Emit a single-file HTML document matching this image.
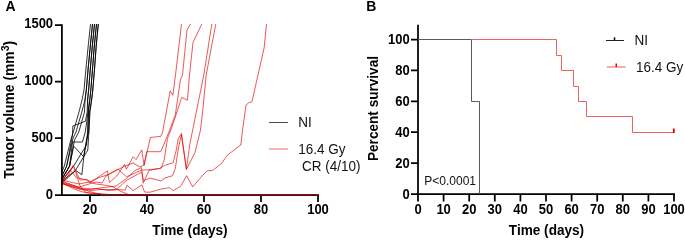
<!DOCTYPE html>
<html><head><meta charset="utf-8"><style>
html,body{margin:0;padding:0;background:#fff;}
svg{display:block;will-change:transform;font-family:"Liberation Sans",sans-serif;}
</style></head><body>
<svg width="685" height="240" viewBox="0 0 685 240" font-family="Liberation Sans, sans-serif">
<rect width="685" height="240" fill="#fff"/>
<polyline points="62.0,172.0 64.3,166.0 71.3,138.0 73.3,132.0 79.0,112.0 82.0,100.0 84.0,90.0 86.0,68.0 88.2,46.0 90.5,24.0" fill="none" stroke="#000" stroke-width="0.8"/><polyline points="62.0,176.0 66.7,166.0 73.1,138.0 76.0,132.0 81.8,112.0 85.0,100.0 86.3,90.0 88.2,68.0 90.3,46.0 92.5,24.0" fill="none" stroke="#000" stroke-width="0.8"/><polyline points="62.0,179.0 69.6,166.0 72.5,150.0 74.5,140.0 78.8,132.0 84.5,112.0 85.0,100.0 86.3,90.0 88.2,68.0 90.3,46.0 92.5,24.0" fill="none" stroke="#000" stroke-width="0.8"/><polyline points="62.0,181.0 73.7,166.0 86.5,145.0 87.5,132.0 88.3,112.0 87.6,100.0 88.6,90.0 90.4,68.0 92.3,46.0 94.5,24.0" fill="none" stroke="#000" stroke-width="0.8"/><polyline points="62.0,176.0 66.7,166.0 72.5,135.0 72.8,126.0 85.3,121.3 87.2,112.0 87.6,100.0 88.6,90.0 90.4,68.0 92.3,46.0 94.5,24.0" fill="none" stroke="#000" stroke-width="0.8"/><polyline points="62.0,179.0 69.6,166.0 72.5,142.0 82.4,142.0 85.3,132.0 88.0,112.0 89.8,100.0 90.8,90.0 92.6,68.0 94.3,46.0 96.5,24.0" fill="none" stroke="#000" stroke-width="0.8"/><polyline points="62.0,181.0 75.5,170.4 81.9,174.7 83.7,157.6 88.0,133.0 88.6,112.0 89.8,100.0 90.8,90.0 92.6,68.0 94.3,46.0 96.5,24.0" fill="none" stroke="#000" stroke-width="0.8"/><polyline points="62.0,179.0 69.6,166.0 73.7,146.2 83.6,156.7 86.5,140.0 88.7,132.0 89.5,112.0 91.6,100.0 92.8,90.0 94.6,68.0 96.2,46.0 98.3,24.0" fill="none" stroke="#000" stroke-width="0.8"/><polyline points="62.0,183.0 75.0,171.0 87.8,150.0 88.9,132.0 90.0,112.0 91.6,100.0 92.8,90.0 94.6,68.0 96.2,46.0 98.3,24.0" fill="none" stroke="#000" stroke-width="0.8"/><polyline points="62.0,181.0 73.3,165.7 77.5,174.5 80.0,180.0 87.0,179.5 89.0,182.5 92.0,181.5 107.4,170.9 109.5,182.5 116.8,175.9 124.5,164.4 126.4,169.2 133.1,156.7 136.0,159.6 141.7,150.0 144.2,165.4 150.3,137.5 160.8,136.3 162.5,132.5 170.2,90.9 172.8,95.3 175.5,75.0 181.5,24.0" fill="none" stroke="#e00000" stroke-width="0.65"/><polyline points="62.0,180.0 70.0,170.0 76.4,177.6 87.0,180.0 90.5,181.5 100.5,177.1 108.0,174.6 124.5,166.3 133.0,163.0 140.0,167.0 143.9,165.0 146.7,151.7 160.7,151.7 165.0,141.7 170.0,129.2 175.3,115.0 180.4,80.0 182.5,75.0 187.0,30.0 190.5,24.0" fill="none" stroke="#e00000" stroke-width="0.65"/><polyline points="62.0,182.0 79.0,187.0 89.0,184.0 96.0,182.0 102.0,183.0 106.0,176.0 118.0,169.0 126.4,176.8 141.7,170.1 150.0,169.7 161.2,168.2 164.2,160.0 167.5,138.3 170.8,130.0 176.0,115.0 181.6,97.5 187.4,100.1 189.5,75.0 193.0,42.5 201.8,24.0" fill="none" stroke="#e00000" stroke-width="0.65"/><polyline points="62.0,183.0 80.0,188.0 92.0,189.0 108.0,187.0 116.0,186.0 126.4,178.7 135.0,170.4 141.5,167.6 143.2,183.2 149.0,170.4 159.5,168.5 165.4,165.0 173.1,162.8 176.3,150.0 178.3,138.3 181.5,133.5 186.4,169.3 189.7,145.0 196.7,110.0 203.8,75.0 211.8,24.0" fill="none" stroke="#e00000" stroke-width="0.65"/><polyline points="62.0,184.0 85.0,190.0 96.0,188.5 109.0,190.5 116.0,190.0 126.4,180.5 141.7,172.0 143.6,180.7 150.0,178.0 161.2,181.0 165.0,178.0 172.6,175.7 175.3,168.3 178.1,150.0 181.3,134.5 186.4,169.3 195.0,152.5 200.5,130.0 202.8,110.0 206.2,75.0 215.8,24.0" fill="none" stroke="#e00000" stroke-width="0.65"/><polyline points="62.0,183.0 78.0,189.0 92.0,190.5 100.0,189.5 118.0,189.5 125.2,190.1 127.0,185.3 133.1,190.6 141.9,184.9 144.6,192.1 150.0,192.2 160.5,189.2 169.5,187.7 173.2,190.7 180.7,186.2 186.7,175.7 192.7,187.0 201.0,177.2 207.0,170.8 212.5,170.5 221.2,163.8 227.5,155.0 240.8,145.0 242.3,132.0 246.0,105.0 248.4,103.0 252.0,101.6 258.0,75.0 264.2,47.5 266.5,24.0" fill="none" stroke="#e00000" stroke-width="0.65"/><polyline points="62.0,182.0 68.0,176.0 73.2,165.5 76.5,175.0 80.0,186.0 85.0,192.0 90.0,193.2 100.0,193.8 108.0,194.3" fill="none" stroke="#e00000" stroke-width="0.65"/><polyline points="62.0,183.0 70.0,187.0 78.0,190.5 85.0,192.5 92.0,193.3 100.0,194.0" fill="none" stroke="#e00000" stroke-width="0.65"/><polyline points="62.0,181.0 72.0,185.0 80.0,188.0 88.0,191.0 95.0,193.0 102.0,194.3" fill="none" stroke="#e00000" stroke-width="0.65"/><polyline points="62.0,180.0 70.0,182.0 79.0,184.0 89.0,182.0 96.0,184.0 104.0,185.0 112.0,186.5 120.0,191.0 128.0,194.3" fill="none" stroke="#e00000" stroke-width="0.65"/>

<g stroke="#000" stroke-width="1.75" fill="none">
 <path d="M61.9,24.2 V195.9"/>
 <path d="M55,195 H318.9"/>
 <path d="M55,25 H62 M55,81.5 H62 M55,138 H62"/>
 <path d="M90,195 V202 M147,195 V202 M204,195 V202 M261,195 V202 M318,195 V202"/>
</g>
<rect x="100" y="194" width="218" height="1" fill="#7e1118"/><rect x="100" y="195" width="218" height="1" fill="#5a0c10"/>
<g font-weight="bold"><text transform="matrix(1,0,0,1.08,53.1,28.3)" font-size="13.0" font-weight="bold" text-anchor="end" fill="#000">1500</text><text transform="matrix(1,0,0,1.08,53.1,85.3)" font-size="13.0" font-weight="bold" text-anchor="end" fill="#000">1000</text><text transform="matrix(1,0,0,1.08,53.1,142.3)" font-size="13.0" font-weight="bold" text-anchor="end" fill="#000">500</text><text transform="matrix(1,0,0,1.08,53.1,199.3)" font-size="13.0" font-weight="bold" text-anchor="end" fill="#000">0</text><text transform="matrix(1,0,0,1.08,90,214.3)" font-size="13.0" font-weight="bold" text-anchor="middle" fill="#000">20</text><text transform="matrix(1,0,0,1.08,147,214.3)" font-size="13.0" font-weight="bold" text-anchor="middle" fill="#000">40</text><text transform="matrix(1,0,0,1.08,204,214.3)" font-size="13.0" font-weight="bold" text-anchor="middle" fill="#000">60</text><text transform="matrix(1,0,0,1.08,261,214.3)" font-size="13.0" font-weight="bold" text-anchor="middle" fill="#000">80</text><text transform="matrix(1,0,0,1.08,318,214.3)" font-size="13.0" font-weight="bold" text-anchor="middle" fill="#000">100</text></g><text transform="matrix(1,0,0,1.03,190,235.2)" font-size="13.6" font-weight="bold" text-anchor="middle" fill="#000">Time (days)</text><text transform="matrix(0,-1,1.03,0,13.6,109.8)" font-size="13.85" font-weight="bold" text-anchor="middle">Tumor volume (mm<tspan font-size="10.6" dy="-4.3">3</tspan><tspan dy="4.3">)</tspan></text><text transform="matrix(1,0,0,1.08,5.6,11.1)" font-size="14.0" font-weight="bold" fill="#000">A</text><path d="M269,122.5 H288" stroke="#4a4a4a" stroke-width="1"/><path d="M269,149 H288" stroke="#f3a0a6" stroke-width="1.6"/><text transform="matrix(1,0,0,1.06,298.2,126.7)" font-size="13.5" fill="#111">NI</text><text transform="matrix(1,0,0,1.06,298.2,153.7)" font-size="13.5" fill="#111">16.4 Gy</text><text transform="matrix(1,0,0,1.06,298.2,170.6)" font-size="13.5" fill="#111" xml:space="preserve"> CR (4/10)</text>
<g stroke="#000" stroke-width="1.75" fill="none">
 <path d="M418,24.8 V195"/>
 <path d="M417,194 H675.0"/>
 <path d="M418.0,194 V201.4 M443.6,194 V201.4 M469.2,194 V201.4 M494.8,194 V201.4 M520.4,194 V201.4 M546.0,194 V201.4 M571.6,194 V201.4 M597.2,194 V201.4 M622.8,194 V201.4 M648.4,194 V201.4 M674.0,194 V201.4 "/>
 <path d="M411,194.0 H418 M411,163.1 H418 M411,132.2 H418 M411,101.3 H418 M411,70.4 H418 M411,39.5 H418 "/>
</g>
<text transform="matrix(1,0,0,1.08,418.0,213.8)" font-size="13.0" font-weight="bold" text-anchor="middle" fill="#000">0</text><text transform="matrix(1,0,0,1.08,443.6,213.8)" font-size="13.0" font-weight="bold" text-anchor="middle" fill="#000">10</text><text transform="matrix(1,0,0,1.08,469.2,213.8)" font-size="13.0" font-weight="bold" text-anchor="middle" fill="#000">20</text><text transform="matrix(1,0,0,1.08,494.8,213.8)" font-size="13.0" font-weight="bold" text-anchor="middle" fill="#000">30</text><text transform="matrix(1,0,0,1.08,520.4,213.8)" font-size="13.0" font-weight="bold" text-anchor="middle" fill="#000">40</text><text transform="matrix(1,0,0,1.08,546.0,213.8)" font-size="13.0" font-weight="bold" text-anchor="middle" fill="#000">50</text><text transform="matrix(1,0,0,1.08,571.6,213.8)" font-size="13.0" font-weight="bold" text-anchor="middle" fill="#000">60</text><text transform="matrix(1,0,0,1.08,597.2,213.8)" font-size="13.0" font-weight="bold" text-anchor="middle" fill="#000">70</text><text transform="matrix(1,0,0,1.08,622.8,213.8)" font-size="13.0" font-weight="bold" text-anchor="middle" fill="#000">80</text><text transform="matrix(1,0,0,1.08,648.4,213.8)" font-size="13.0" font-weight="bold" text-anchor="middle" fill="#000">90</text><text transform="matrix(1,0,0,1.08,674.0,213.8)" font-size="13.0" font-weight="bold" text-anchor="middle" fill="#000">100</text><text transform="matrix(1,0,0,1.08,409.8,198.6)" font-size="13.0" font-weight="bold" text-anchor="end" fill="#000">0</text><text transform="matrix(1,0,0,1.08,409.8,167.7)" font-size="13.0" font-weight="bold" text-anchor="end" fill="#000">20</text><text transform="matrix(1,0,0,1.08,409.8,136.79999999999998)" font-size="13.0" font-weight="bold" text-anchor="end" fill="#000">40</text><text transform="matrix(1,0,0,1.08,409.8,105.9)" font-size="13.0" font-weight="bold" text-anchor="end" fill="#000">60</text><text transform="matrix(1,0,0,1.08,409.8,75.0)" font-size="13.0" font-weight="bold" text-anchor="end" fill="#000">80</text><text transform="matrix(1,0,0,1.08,409.8,44.1)" font-size="13.0" font-weight="bold" text-anchor="end" fill="#000">100</text><text transform="matrix(1,0,0,1.03,546.5,235.2)" font-size="13.6" font-weight="bold" text-anchor="middle" fill="#000">Time (days)</text><text transform="matrix(0,-1,1.03,0,377.6,108.5)" font-size="13.6" font-weight="bold" text-anchor="middle">Percent survival</text><text transform="matrix(1,0,0,1.08,366.3,11.1)" font-size="14.0" font-weight="bold" fill="#000">B</text>
<polyline points="418.0,39.5 471.5,39.5 471.5,101.5 479.5,101.5 479.5,194.0" fill="none" stroke="#5a5a5a" stroke-width="1"/>
<polyline points="471.5,39.5 556.5,39.5 556.5,55.5 561.5,55.5 561.5,70.5 573.5,70.5 573.5,86.5 578.5,86.5 578.5,101.5 586.5,101.5 586.5,116.5 632.5,116.5 632.5,132.5 673.0,132.5" fill="none" stroke="#ec6262" stroke-width="1"/>
<path d="M673.8,128.5 V133" stroke="#e8000b" stroke-width="1.8"/>
<path d="M606,40.5 H624" stroke="#222" stroke-width="1"/><path d="M614.5,37.3 V40.5" stroke="#111" stroke-width="1.6"/>
<path d="M607,67 H625.5" stroke="#f07070" stroke-width="1.2"/>
<path d="M616.25,63.5 V67" stroke="#e00" stroke-width="1.5"/>
<text transform="matrix(1,0,0,1.0,424.3,185)" font-size="12" fill="#111">P&lt;0.0001</text><text transform="matrix(1,0,0,1.06,634.5,45.2)" font-size="13.5" fill="#111">NI</text><text transform="matrix(1,0,0,1.06,636,71.8)" font-size="13.5" fill="#111">16.4 Gy</text>
</svg>
</body></html>
